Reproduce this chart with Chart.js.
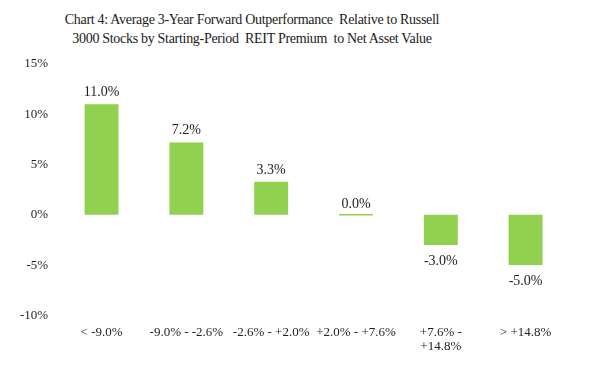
<!DOCTYPE html>
<html>
<head>
<meta charset="utf-8">
<script src="https://cdn.jsdelivr.net/npm/chart.js@4.4.1/dist/chart.umd.min.js"></script>
<style>
  body { margin: 0; background: #fff; }
  #wrap { position: relative; width: 615px; height: 375px; }
  #titulo {
    position: absolute; top: 10px; left: 2px; width: 500px; white-space: nowrap;
    text-align: center; font-family: 'Liberation Serif', serif; font-size: 14px;
    letter-spacing: -0.3px; line-height: 19px; color: #1a1a1a;
  }
  canvas { position: absolute; top: 0; left: 0; }
</style>
</head>
<body>
<div id="wrap">
  <div id="titulo">Chart 4: Average 3-Year Forward Outperformance&nbsp; Relative to Russell<br>3000 Stocks by Starting-Period&nbsp; REIT Premium&nbsp; to Net Asset Value</div>
  <canvas id="grafico" width="615" height="375"></canvas>
</div>
<script>
const categorias = ['< -9.0%', '-9.0% - -2.6%', '-2.6% - +2.0%', '+2.0% - +7.6%', ['+7.6% -', '+14.8%'], '> +14.8%'];
const rendimiento = [11.0, 7.2, 3.3, 0.0, -3.0, -5.0];
const ticksY = [15, 10, 5, 0, -5, -10];

const FUENTE = "'Liberation Serif', serif";
const COLOR_TEXTO = '#1f1f1f';

// etiquetas sobre/bajo cada barra
const etiquetasBarras = {
  id: 'etiquetasBarras',
  afterDatasetsDraw(chart) {
    const ctx = chart.ctx;
    const meta = chart.getDatasetMeta(0);
    ctx.save();
    ctx.font = '14px ' + FUENTE;
    ctx.fillStyle = COLOR_TEXTO;
    ctx.textAlign = 'center';
    meta.data.forEach((bar, i) => {
      const v = rendimiento[i];
      const txt = v.toFixed(1) + '%';
      if (v >= 0) {
        ctx.textBaseline = 'alphabetic';
        ctx.fillText(txt, bar.x, bar.y - 8);
      } else {
        ctx.textBaseline = 'top';
        ctx.fillText(txt, bar.x, bar.y + 9);
      }
    });
    ctx.restore();
  }
};

new Chart(document.getElementById('grafico').getContext('2d'), {
  type: 'bar',
  data: {
    labels: categorias,
    datasets: [{ data: rendimiento, backgroundColor: '#92D050', barPercentage: 0.4, categoryPercentage: 1, minBarLength: 1.5 }]
  },
  options: {
    responsive: false,
    animation: false,
    layout: { padding: { top: 64, right: 47, bottom: 11, left: 9 } },
    plugins: { legend: { display: false }, tooltip: { enabled: false } },
    scales: {
      x: {
        grid: { display: false, drawTicks: false },
        border: { display: false },
        ticks: { color: COLOR_TEXTO, font: { family: FUENTE, size: 13, lineHeight: 1.1 }, padding: 10, maxRotation: 0, autoSkip: false }
      },
      y: {
        min: -10, max: 15,
        afterBuildTicks: axis => { axis.ticks = ticksY.map(v => ({ value: v })); },
        grid: { display: false, drawTicks: false },
        border: { display: false },
        ticks: { color: COLOR_TEXTO, font: { family: FUENTE, size: 13 }, padding: 11, callback: v => v + '%' }
      }
    }
  },
  plugins: [etiquetasBarras]
});
</script>
</body>
</html>
